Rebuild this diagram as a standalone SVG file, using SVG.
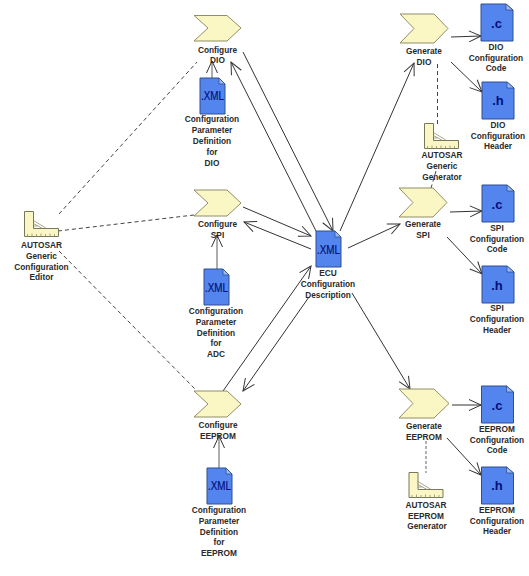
<svg xmlns="http://www.w3.org/2000/svg" width="529" height="576" viewBox="0 0 529 576">
<style>
text{font-family:"Liberation Sans",Arial,sans-serif;font-size:8.3px;font-weight:700;fill:#2a2a2a;text-anchor:middle}
.chev{fill:#fbf7c4;stroke:#8f8f66;stroke-width:1}
.doc{fill:#5485ee;stroke:#2f4f8f;stroke-width:1}
.fold{fill:#9db9f2;stroke:#2f4f8f;stroke-width:.8}
text.x{font-size:12px;font-weight:400;fill:#00107a;stroke:#00107a;stroke-width:.2}
text.e{font-size:13px;fill:#00107a}
.ruler{fill:#fbf7c4;stroke:#77775a;stroke-width:1}
.hatch{fill:none;stroke:#8f8f70;stroke-width:.8}
.a{fill:none;stroke:#333;stroke-width:1;marker-end:url(#open)}
.g{fill:none;stroke:#777;stroke-width:1.2;marker-end:url(#open)}
.d{fill:none;stroke:#444;stroke-width:1;stroke-dasharray:4 3}
</style>
<defs>
<marker id="open" markerUnits="userSpaceOnUse" markerWidth="16" markerHeight="14" refX="13" refY="6" orient="auto" viewBox="0 0 16 12">
<path d="M1 .5L13 6L1 11.500" fill="none" stroke="#333" stroke-width="1"/>
</marker>
<g id="doc"><path class="doc" d="M0 0H19L25 6V36H0Z"/><path class="fold" d="M19 0L25 6H19Z"/></g>
<g id="bdoc"><path class="doc" d="M0 0H25L32 6V37H0Z"/><path class="fold" d="M25 0L32 6H25Z"/></g>
<g id="ruler"><path class="ruler" d="M0 0H9V17H34V25H0Z"/><path class="hatch" d="M9 9L22 17M9 12L18 17M9 14.500H13M3 25V22.500M7.500 25V22M12 25V22.500M16.500 25V22M21 25V22.500M25.500 25V22M30 25V22.500"/></g>
</defs>

<g id="connectors">
<path class="d" d="M59 214L197 62"/>
<path class="d" d="M58 231L194 215"/>
<path class="d" d="M59 251L196 390"/>
<path class="d" d="M437.500 64V124"/>
<path class="d" d="M436 171L431 188"/>
<path class="d" d="M426 441V473" style="stroke:#888;stroke-width:1.300;stroke-dasharray:3 2"/>
<path class="g" d="M212 78V61"/>
<path class="g" d="M217 269V235"/>
<path class="g" d="M219 468V436"/>
<path class="a" d="M243 52L333 231"/>
<path class="a" d="M316 231L231 62"/>
<path class="a" d="M243 207L311 236"/>
<path class="a" d="M311 249L244 222"/>
<path class="a" d="M223 391L311 266"/>
<path class="a" d="M309 297L243 391"/>
<path class="a" d="M340 231L414 63"/>
<path class="a" d="M348 248L400 224"/>
<path class="a" d="M352 293L410 389"/>
<path class="a" d="M451 37L481 36"/>
<path class="a" d="M451 62L482 92"/>
<path class="a" d="M450 212L482 211"/>
<path class="a" d="M447 237L482 274"/>
<path class="a" d="M452 405L481 405"/>
<path class="a" d="M447 438L481 475"/>
</g>

<g id="configure-dio"><path class="chev" d="M194 15.500H227L241 28L227 41H194L208 28Z"/><text x="217.500" y="52.500">Configure</text><text x="217.500" y="63">DIO</text></g>
<g id="param-dio"><use href="#doc" x="200" y="78"/><text class="x" x="212.500" y="100" textLength="23" lengthAdjust="spacingAndGlyphs">.XML</text><text x="212" y="122">Configuration</text><text x="212" y="133">Parameter</text><text x="212" y="144">Definition</text><text x="212" y="155">for</text><text x="212" y="166">DIO</text></g>
<g id="configure-spi"><path class="chev" d="M194 190H227L241 203L227 216H194L208 203Z"/><text x="217.500" y="227">Configure</text><text x="217.500" y="237.500">SPI</text></g>
<g id="param-spi"><use href="#doc" x="204" y="269"/><text class="x" x="216.500" y="292" textLength="23" lengthAdjust="spacingAndGlyphs">.XML</text><text x="216" y="314">Configuration</text><text x="216" y="325">Parameter</text><text x="216" y="335.500">Definition</text><text x="216" y="346">for</text><text x="216" y="357">ADC</text></g>
<g id="configure-eeprom"><path class="chev" d="M194 391H227L241 404L227 417H194L208 404Z"/><text x="218" y="428">Configure</text><text x="218" y="439">EEPROM</text></g>
<g id="param-eeprom"><use href="#doc" x="207" y="468"/><text class="x" x="219.500" y="490" textLength="23" lengthAdjust="spacingAndGlyphs">.XML</text><text x="219" y="513">Configuration</text><text x="219" y="524">Parameter</text><text x="219" y="534.500">Definition</text><text x="219" y="545">for</text><text x="219" y="556">EEPROM</text></g>
<g id="generic-editor"><use href="#ruler" x="24.500" y="211.500"/><text x="41.500" y="248">AUTOSAR</text><text x="41.500" y="259">Generic</text><text x="41.500" y="270">Configuration</text><text x="41.500" y="280">Editor</text></g>
<g id="ecu-description"><use href="#doc" x="316" y="231"/><text class="x" x="328.500" y="254" textLength="23" lengthAdjust="spacingAndGlyphs">.XML</text><text x="328" y="276">ECU</text><text x="328" y="287">Configuration</text><text x="328" y="297.500">Description</text></g>
<g id="generate-dio"><path class="chev" d="M400 43L414 28.500L400 14H434L448 28.500L434 43Z"/><text x="424" y="54">Generate</text><text x="424" y="65">DIO</text></g>
<g id="dio-code"><use href="#bdoc" x="481" y="4"/><text class="e" x="496.500" y="28">.c</text><text x="496" y="50">DIO</text><text x="496" y="61">Configuration</text><text x="496" y="71">Code</text></g>
<g id="dio-header"><use href="#bdoc" x="482" y="82"/><text class="e" x="498" y="105">.h</text><text x="498" y="128">DIO</text><text x="498" y="138.500">Configuration</text><text x="498" y="149">Header</text></g>
<g id="generic-generator"><use href="#ruler" x="424.500" y="123.500"/><text x="442" y="158">AUTOSAR</text><text x="442" y="169">Generic</text><text x="442" y="180">Generator</text></g>
<g id="generate-spi"><path class="chev" d="M399 217L413 202.500L399 188H433L447 202.500L433 217Z"/><text x="423" y="227">Generate</text><text x="423" y="238">SPI</text></g>
<g id="spi-code"><use href="#bdoc" x="482" y="185"/><text class="e" x="497" y="209">.c</text><text x="497" y="231">SPI</text><text x="497" y="242">Configuration</text><text x="497" y="252">Code</text></g>
<g id="spi-header"><use href="#bdoc" x="482" y="266"/><text class="e" x="497" y="290">.h</text><text x="497" y="311">SPI</text><text x="497" y="322">Configuration</text><text x="497" y="333">Header</text></g>
<g id="generate-eeprom"><path class="chev" d="M399 418L413 403.500L399 389H434L449 403.500L434 418Z"/><text x="424" y="429">Generate</text><text x="424" y="440">EEPROM</text></g>
<g id="eeprom-code"><use href="#bdoc" x="481.500" y="386"/><text class="e" x="497" y="410">.c</text><text x="497" y="432">EEPROM</text><text x="497" y="443">Configuration</text><text x="497" y="453">Code</text></g>
<g id="eeprom-header"><use href="#bdoc" x="481.500" y="467"/><text class="e" x="497" y="490">.h</text><text x="497" y="513">EEPROM</text><text x="497" y="524">Configuration</text><text x="497" y="534">Header</text></g>
<g id="eeprom-generator"><use href="#ruler" x="409" y="472.500"/><text x="426" y="508">AUTOSAR</text><text x="426" y="519">EEPROM</text><text x="427" y="529">Generator</text></g>
</svg>
